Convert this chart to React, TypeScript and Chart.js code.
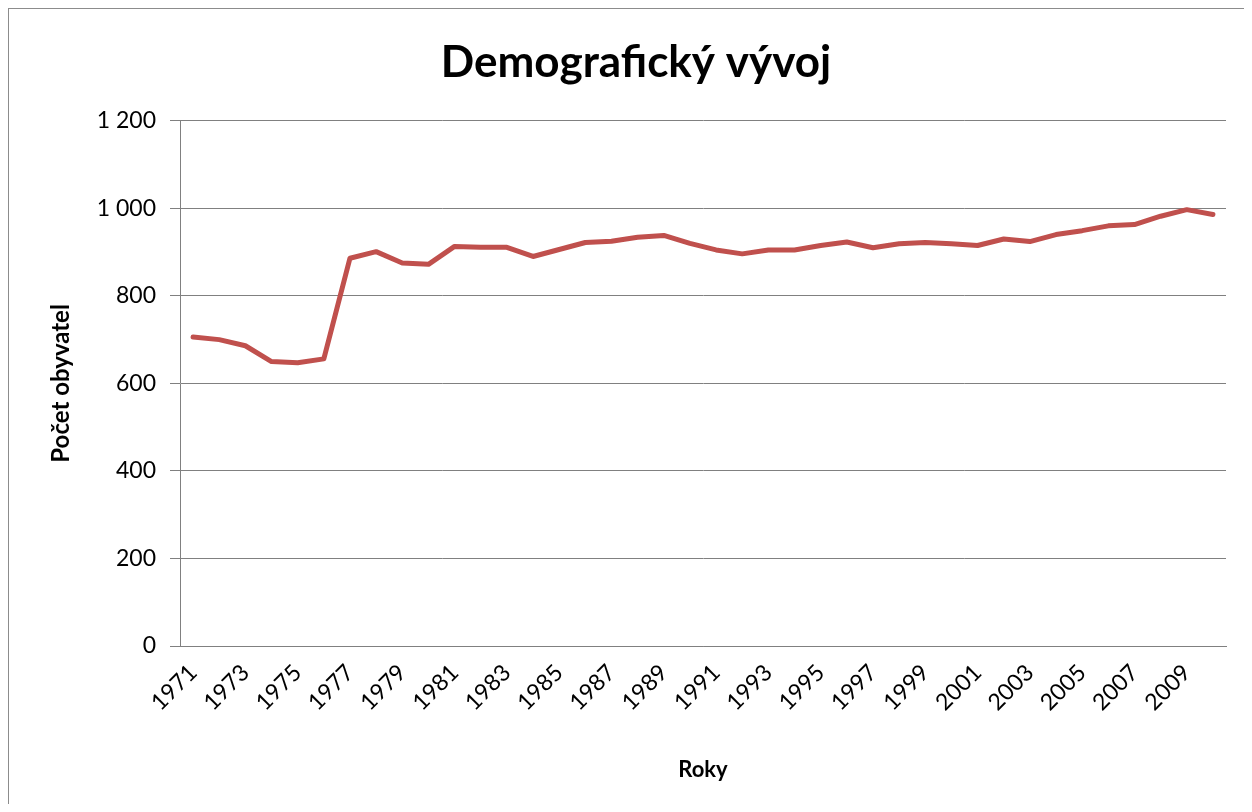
import React, { useEffect, useRef } from "react";
import { Chart, registerables } from "chart.js";

Chart.register(...registerables);

const years: string[] = [
  "1971","1972","1973","1974","1975","1976","1977","1978","1979","1980",
  "1981","1982","1983","1984","1985","1986","1987","1988","1989","1990",
  "1991","1992","1993","1994","1995","1996","1997","1998","1999","2000",
  "2001","2002","2003","2004","2005","2006","2007","2008","2009","2010",
];

const population: number[] = [
  706, 700, 686, 650, 647, 656, 886, 901, 875, 872,
  913, 911, 911, 890, 906, 922, 925, 934, 938, 920,
  905, 896, 905, 905, 915, 923, 910, 919, 922, 919,
  915, 930, 924, 940, 949, 960, 963, 982, 997, 986,
];

const yTicks: number[] = [0, 200, 400, 600, 800, 1000, 1200];

const titleText = "Demografický vývoj";
const yTitle = "Počet obyvatel";
const xTitle = "Roky";

function formatNum(v: number): string {
  const s = String(Math.round(v));
  return s.replace(/\B(?=(\d{3})+(?!\d))/g, " ");
}

export default function App() {
  const ref = useRef<HTMLCanvasElement | null>(null);

  useEffect(() => {
    if (!ref.current) return;
    const FONT = "Lato, 'DejaVu Sans', sans-serif";
    const gray = "#808080";
    const chart = new Chart(ref.current, {
      type: "line",
      data: {
        labels: years,
        datasets: [
          {
            data: population,
            yAxisID: "y",
            borderColor: "#C0504D",
            backgroundColor: "#C0504D",
            borderWidth: 5,
            pointRadius: 0,
            tension: 0,
            borderJoinStyle: "round",
            borderCapStyle: "round",
          },
        ],
      },
      options: {
        animation: false,
        responsive: true,
        maintainAspectRatio: false,
        layout: { padding: { left: 0, right: 0, top: 0, bottom: 0 } },
        plugins: {
          legend: { display: false },
          tooltip: { enabled: false },
          title: {
            display: true,
            text: titleText,
            color: "#000",
            font: { family: FONT, size: 44, weight: "bold" },
            padding: { top: 27, bottom: 32 },
          },
        },
        scales: {
          x: {
            type: "category",
            offset: true,
            grid: { display: false, drawTicks: false, offset: true },
            border: { display: true, color: gray, width: 1 },
            ticks: {
              autoSkip: false,
              maxRotation: 45,
              minRotation: 45,
              padding: 13,
              color: "#000",
              font: { family: FONT, size: 23 },
              callback: (_v: any, i: number) => (i % 2 === 0 ? years[i] : ""),
            },
            title: {
              display: true,
              text: xTitle,
              color: "#000",
              font: { family: FONT, size: 22, weight: "bold" },
              padding: { top: 0, bottom: 21 },
            },
            afterFit: (scale: any) => {
              scale.height = 158;
            },
          },
          y: {
            position: "left",
            min: 0,
            max: 1200,
            afterBuildTicks: (scale: any) => {
              scale.ticks = yTicks.map((v) => ({ value: v }));
            },
            grid: {
              color: gray,
              lineWidth: 1,
              drawTicks: true,
              tickLength: 10,
            },
            border: { display: true, color: gray, width: 1 },
            ticks: {
              padding: 14,
              color: "#000",
              font: { family: FONT, size: 23 },
              callback: (v: any) => formatNum(Number(v)),
            },
            title: {
              display: true,
              text: yTitle,
              color: "#000",
              font: { family: FONT, size: 24, weight: "bold" },
              padding: { top: 38, bottom: 10 },
            },
            afterFit: (scale: any) => {
              scale.width = 171;
            },
          },
          yRight: {
            position: "right",
            min: 0,
            max: 1200,
            grid: { display: false, drawTicks: false },
            border: { display: false },
            ticks: { display: false },
            afterFit: (scale: any) => {
              scale.width = 37;
            },
          },
        },
      },
    });
    return () => chart.destroy();
  }, []);

  return (
    <div
      style={{
        width: 1236,
        height: 796,
        boxSizing: "border-box",
        borderLeft: "1px solid #8c8c8c",
        borderTop: "1px solid #8c8c8c",
        overflow: "hidden",
        background: "#fff",
      }}
    >
      <div style={{ position: "relative", width: 1254, height: 795 }}>
        <canvas ref={ref} />
      </div>
    </div>
  );
}
